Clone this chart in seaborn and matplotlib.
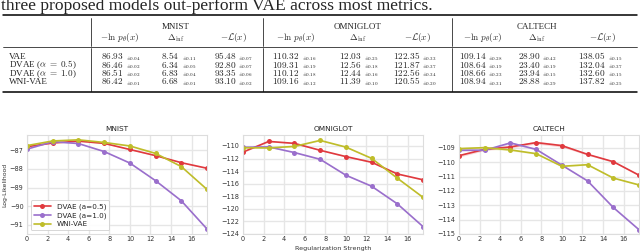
import matplotlib.pyplot as plt
import numpy as np
import pandas as pd
import seaborn as sns
from matplotlib.lines import Line2D
from matplotlib.ticker import MultipleLocator

W, H = 640, 252

# ---- table data ----
caption = "three proposed models out-perform VAE across most metrics."
row_labels = ["VAE", r"DVAE ($\alpha\;=\;0.5$)", r"DVAE ($\alpha\;=\;1.0$)", "WNI-VAE"]
datasets = ["MNIST", "OMNIGLOT", "CALTECH"]
metric_labels = [r"$-\ln\, p_\theta(x)$", r"$\Delta_{\mathrm{inf}}$", r"$-\mathcal{L}(x)$"]

mnist_nll = [86.93, 86.46, 86.51, 86.42]
mnist_nll_sd = [0.04, 0.02, 0.02, 0.01]
mnist_dinf = [8.54, 6.34, 6.83, 6.68]
mnist_dinf_sd = [0.11, 0.05, 0.04, 0.01]
mnist_elbo = [95.48, 92.80, 93.35, 93.10]
mnist_elbo_sd = [0.07, 0.07, 0.06, 0.02]

omni_nll = [110.32, 109.31, 110.12, 109.16]
omni_nll_sd = [0.16, 0.19, 0.18, 0.12]
omni_dinf = [12.03, 12.56, 12.44, 11.39]
omni_dinf_sd = [0.25, 0.18, 0.16, 0.10]
omni_elbo = [122.35, 121.87, 122.56, 120.55]
omni_elbo_sd = [0.33, 0.37, 0.34, 0.20]

cal_nll = [109.14, 108.64, 108.66, 108.94]
cal_nll_sd = [0.28, 0.19, 0.23, 0.31]
cal_dinf = [28.90, 23.40, 23.94, 28.88]
cal_dinf_sd = [0.42, 0.19, 0.15, 0.29]
cal_elbo = [138.05, 132.04, 132.60, 137.82]
cal_elbo_sd = [0.15, 0.37, 0.15, 0.25]

# ---- curve data ----
reg_strength = [0, 2.5, 5, 7.5, 10, 12.5, 15, 17.5]
curve_models = ["DVAE (a=0.5)", "DVAE (a=1.0)", "WNI-VAE"]

mnist_dvae05 = [-86.80, -86.60, -86.50, -86.62, -86.95, -87.28, -87.66, -87.96]
mnist_dvae10 = [-86.93, -86.53, -86.63, -87.06, -87.68, -88.63, -89.71, -91.23]
mnist_wni = [-86.74, -86.49, -86.43, -86.57, -86.76, -87.16, -87.87, -89.10]

omni_dvae05 = [-110.97, -109.28, -109.59, -110.69, -111.69, -112.59, -114.45, -115.38]
omni_dvae10 = [-110.22, -110.15, -111.05, -112.12, -114.65, -116.40, -119.20, -122.82]
omni_wni = [-110.28, -110.32, -110.07, -109.12, -110.18, -111.97, -115.12, -118.17]

cal_dvae05 = [-109.54, -109.10, -108.93, -108.63, -108.84, -109.45, -109.96, -110.90]
cal_dvae10 = [-109.16, -109.16, -108.65, -109.10, -110.20, -111.30, -113.15, -114.70]
cal_wni = [-109.05, -108.98, -109.14, -109.40, -110.28, -110.17, -111.10, -111.58]

# spread of the shaded bands (only really visible on CALTECH)
mnist_spread = [0.02] * 8
omni_spread = [0.08] * 8
cal_dvae05_spread = [0.10, 0.08, 0.08, 0.10, 0.10, 0.06, 0.05, 0.05]
cal_dvae10_spread = [0.08, 0.06, 0.08, 0.05, 0.04, 0.04, 0.04, 0.04]
cal_wni_spread = [0.08, 0.10, 0.06, 0.05, 0.04, 0.04, 0.04, 0.04]

palette = {"DVAE (a=0.5)": "#e0393e", "DVAE (a=1.0)": "#9a6fcc", "WNI-VAE": "#bfbd2a"}

sns.set_theme(style="whitegrid")
plt.rcParams.update(
    {
        "font.family": ["DejaVu Sans"],
        "mathtext.fontset": "cm",
        "grid.color": "#e6e6e6",
        "grid.linewidth": 1.0,
        "axes.edgecolor": "#dddddd",
        "axes.linewidth": 0.8,
        "xtick.color": "#333333",
        "ytick.color": "#333333",
    }
)

fig = plt.figure(figsize=(W / 100, H / 100), dpi=100)


def fx(x):
    return x / W


def fy(y):
    return 1 - y / H


serif = ["Liberation Serif", "DejaVu Serif"]
tfs = 6.3  # table font size

# caption line
fig.text(fx(1), fy(9.5), caption, family=serif, fontsize=12.6, va="baseline", ha="left")

# booktabs-style rules
for y, lw in [(15, 1.1), (46.7, 0.5), (91.7, 1.1)]:
    fig.add_artist(Line2D([fx(3), fx(637)], [fy(y), fy(y)], transform=fig.transFigure,
                          color="black", lw=lw))
for x in [90.7, 263.3, 451.7]:
    for y0, y1 in [(18, 45.5), (48, 90.5)]:
        fig.add_artist(Line2D([fx(x), fx(x)], [fy(y0), fy(y1)], transform=fig.transFigure,
                              color="black", lw=0.5))

group_centers = [176, 358, 537]
col_centers = [[120, 176, 233], [296, 358, 417], [483, 537, 602]]
table = [
    [(mnist_nll, mnist_nll_sd), (mnist_dinf, mnist_dinf_sd), (mnist_elbo, mnist_elbo_sd)],
    [(omni_nll, omni_nll_sd), (omni_dinf, omni_dinf_sd), (omni_elbo, omni_elbo_sd)],
    [(cal_nll, cal_nll_sd), (cal_dinf, cal_dinf_sd), (cal_elbo, cal_elbo_sd)],
]
row_baselines = [59.3, 67.6, 75.9, 84.2]

for g, name in enumerate(datasets):
    fig.text(fx(group_centers[g]), fy(29.3), name, family=serif, fontsize=tfs + 0.2,
             ha="center", va="baseline")
    for c, label in enumerate(metric_labels):
        cx = col_centers[g][c]
        fig.text(fx(cx), fy(40.3), label, fontsize=tfs + 0.3, ha="center", va="baseline")
        vals, sds = table[g][c]
        best = int(np.argmin(vals))
        for r, (v, s) in enumerate(zip(vals, sds)):
            num = rf"$\mathbf{{{v:.2f}}}$" if r == best else rf"${v:.2f}$"
            fig.text(fx(cx + 3.5), fy(row_baselines[r]), num, fontsize=tfs + 0.4,
                     ha="right", va="baseline")
            fig.text(fx(cx + 5.5), fy(row_baselines[r] + 0.6), rf"$\pm{s:.2f}$",
                     fontsize=3.6, ha="left", va="baseline", color="#222222")

for r, label in enumerate(row_labels):
    fig.text(fx(9), fy(row_baselines[r]), label, family=serif, fontsize=tfs + 0.3,
             ha="left", va="baseline")

# ---- curves ----
curves = {
    "MNIST": ([mnist_dvae05, mnist_dvae10, mnist_wni],
              [mnist_spread, mnist_spread, mnist_spread], (-91.5, -86.17), 1),
    "OMNIGLOT": ([omni_dvae05, omni_dvae10, omni_wni],
                 [omni_spread, omni_spread, omni_spread], (-124, -108.26), 2),
    "CALTECH": ([cal_dvae05, cal_dvae10, cal_wni],
                [cal_dvae05_spread, cal_dvae10_spread, cal_wni_spread], (-115, -108.1), 1),
}
lefts = [27, 243, 459]

for i, (name, (series, spreads, ylim, step)) in enumerate(curves.items()):
    ax = fig.add_axes([fx(lefts[i]), fy(234), fx(180), 99 / H])
    df = pd.DataFrame(
        {
            "reg": reg_strength * 3,
            "ll": sum(series, []),
            "model": np.repeat(curve_models, len(reg_strength)),
        }
    )
    for m, s, sp in zip(curve_models, series, spreads):
        ax.fill_between(reg_strength, np.array(s) - sp, np.array(s) + sp,
                        color=palette[m], alpha=0.2, lw=0)
    sns.lineplot(data=df, x="reg", y="ll", hue="model", palette=palette, marker="o",
                 markersize=3.6, markeredgewidth=0, linewidth=1.2, ax=ax,
                 legend=(i == 0))
    ax.set_xlim(0, 17.5)
    ax.set_ylim(*ylim)
    ax.xaxis.set_major_locator(MultipleLocator(2))
    ax.yaxis.set_major_locator(MultipleLocator(step))
    ax.tick_params(axis="x", labelsize=4.7, pad=1.5, length=0)
    ax.tick_params(axis="y", labelsize=4.7, pad=2.5, length=0)
    ax.set_title(name, fontsize=5.3, pad=3, color="#222222")
    ax.set_xlabel("Regularization Strength" if i == 1 else "", fontsize=4.6,
                  color="#333333")
    ax.set_ylabel("Log-Likelihood" if i == 0 else "", fontsize=4.4, color="#333333")
    ax.xaxis.set_label_coords(0.5, -0.12)
    ax.yaxis.set_label_coords(-0.11, 0.5)
    if i == 0:
        leg = ax.legend(loc="lower left", fontsize=5.2, handlelength=2.4,
                        borderpad=0.4, labelspacing=0.35, framealpha=0.9,
                        edgecolor="#cccccc", title=None)
        leg.get_frame().set_linewidth(0.6)

fig.savefig("out.png", dpi=100)
